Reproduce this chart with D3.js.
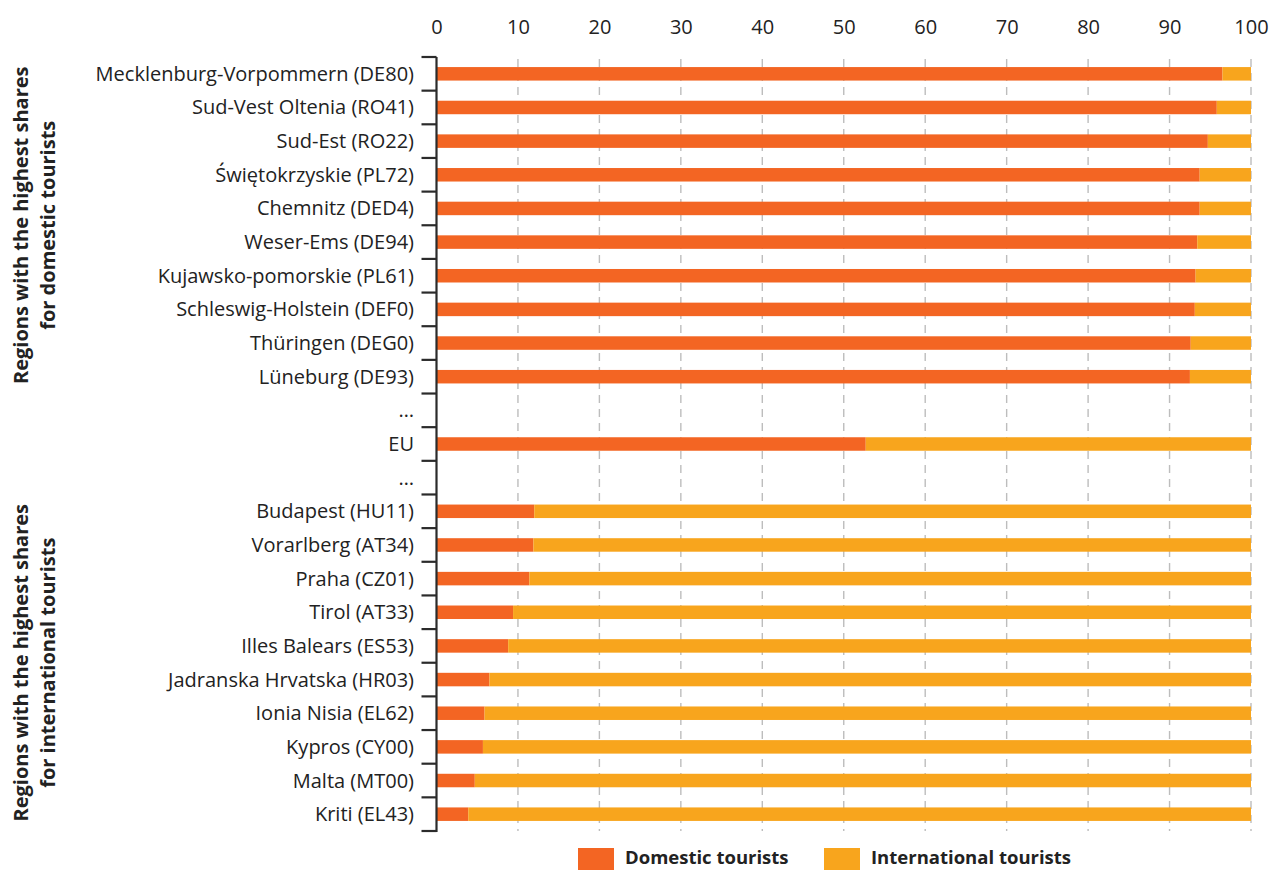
<!DOCTYPE html>
<html>
<head>
<meta charset="utf-8">
<script src="https://cdn.jsdelivr.net/npm/d3@7"></script>
<style>
  html, body { margin: 0; padding: 0; background: #fff; }
  svg { display: block; font-family: "Open Sans", "Noto Sans", sans-serif; }
</style>
</head>
<body>
<svg id="chart" width="1272" height="870"></svg>
<script>
// Share of nights spent by domestic vs international tourists (%)
const regions = [
  "Mecklenburg-Vorpommern (DE80)",
  "Sud-Vest Oltenia (RO41)",
  "Sud-Est (RO22)",
  "Świętokrzyskie (PL72)",
  "Chemnitz (DED4)",
  "Weser-Ems (DE94)",
  "Kujawsko-pomorskie (PL61)",
  "Schleswig-Holstein (DEF0)",
  "Thüringen (DEG0)",
  "Lüneburg (DE93)",
  "gap1",
  "EU",
  "gap2",
  "Budapest (HU11)",
  "Vorarlberg (AT34)",
  "Praha (CZ01)",
  "Tirol (AT33)",
  "Illes Balears (ES53)",
  "Jadranska Hrvatska (HR03)",
  "Ionia Nisia (EL62)",
  "Kypros (CY00)",
  "Malta (MT00)",
  "Kriti (EL43)"
];
// null marks the separator rows, which carry no bar
const domestic = [
  96.5, 95.8, 94.7, 93.7, 93.7, 93.4, 93.2, 93.1, 92.6, 92.5,
  null, 52.7, null,
  12.0, 11.9, 11.4, 9.4, 8.8, 6.5, 5.9, 5.7, 4.7, 3.9
];
const international = domestic.map(d => d == null ? null : +(100 - d).toFixed(1));
const xTicks = [0, 10, 20, 30, 40, 50, 60, 70, 80, 90, 100];
const groupLabels = [
  { lines: ["Regions with the highest shares", "for domestic tourists"], from: regions[0], to: regions[9] },
  { lines: ["Regions with the highest shares", "for international tourists"], from: regions[13], to: regions[22] }
];
const seriesNames = ["Domestic tourists", "International tourists"];
const colors = ["#f36523", "#f8a51d"];

const svg = d3.select("#chart");
const x = d3.scaleLinear().domain([0, 100]).range([436.5, 1251]);
const y = d3.scaleBand().domain(regions).range([57, 831]);
const barH = 13.5;
const fontSize = 20;

// dashed vertical gridlines
svg.append("g").selectAll("line")
  .data(xTicks.filter(t => t > 0))
  .join("line")
  .attr("x1", d => x(d)).attr("x2", d => x(d))
  .attr("y1", 59).attr("y2", 831)
  .attr("stroke", "#bdbdbd").attr("stroke-width", 1.4)
  .attr("stroke-dasharray", "8,6");

// top axis labels
const xAxis = d3.axisTop(x).tickValues(xTicks).tickSize(0).tickPadding(0);
const gx = svg.append("g").attr("transform", "translate(0,34)").call(xAxis);
gx.select(".domain").remove();
gx.selectAll("text").attr("font-size", fontSize).attr("fill", "#222")
  .attr("font-family", "'Open Sans', sans-serif");

// stacked bars
const rows = regions.map((r, i) => ({ r, d: domestic[i], n: international[i] })).filter(o => o.d != null);
const gb = svg.append("g");
gb.selectAll("rect.dom").data(rows).join("rect").attr("class", "dom")
  .attr("x", x(0)).attr("width", o => x(o.d) - x(0))
  .attr("y", o => y(o.r) + y.bandwidth() / 2 - barH / 2).attr("height", barH)
  .attr("fill", colors[0]);
gb.selectAll("rect.int").data(rows).join("rect").attr("class", "int")
  .attr("x", o => x(o.d)).attr("width", o => x(o.d + o.n) - x(o.d))
  .attr("y", o => y(o.r) + y.bandwidth() / 2 - barH / 2).attr("height", barH)
  .attr("fill", colors[1]);

// left axis: line with ticks at row boundaries
const ga = svg.append("g");
ga.append("line").attr("x1", x(0)).attr("x2", x(0))
  .attr("y1", y.range()[0]).attr("y2", y.range()[1] + 1)
  .attr("stroke", "#2b2b2b").attr("stroke-width", 2.2);
const bounds = regions.map(r => y(r)).concat([y.range()[1]]);
ga.selectAll("line.tk").data(bounds).join("line").attr("class", "tk")
  .attr("x1", x(0) - 15).attr("x2", x(0))
  .attr("y1", d => d).attr("y2", d => d)
  .attr("stroke", "#2b2b2b").attr("stroke-width", 2.2);

// category labels
ga.selectAll("text").data(regions).join("text")
  .attr("x", 414).attr("y", d => y(d) + y.bandwidth() / 2)
  .attr("dy", "0.35em").attr("text-anchor", "end")
  .attr("font-size", fontSize).attr("fill", "#222")
  .text(d => d.startsWith("gap") ? "…" : d);

// group labels (rotated)
groupLabels.forEach(g => {
  const cy = (y(g.from) + y(g.to) + y.bandwidth()) / 2;
  const t = svg.append("text")
    .attr("transform", `translate(40,${cy}) rotate(-90)`)
    .attr("text-anchor", "middle").attr("font-size", fontSize)
    .attr("font-weight", "bold").attr("fill", "#222");
  g.lines.forEach((l, i) => {
    t.append("tspan").attr("x", 0).attr("y", i === 0 ? -12 : 15).text(l);
  });
});

// legend
const legend = svg.append("g");
const legendX = [578, 824];
seriesNames.forEach((s, i) => {
  legend.append("rect").attr("x", legendX[i]).attr("y", 848)
    .attr("width", 36).attr("height", 22).attr("fill", colors[i]);
  legend.append("text").attr("x", legendX[i] + 47).attr("y", 864)
    .attr("font-size", 18.5).attr("font-weight", "bold").attr("fill", "#222")
    .text(s);
});
</script>
</body>
</html>
